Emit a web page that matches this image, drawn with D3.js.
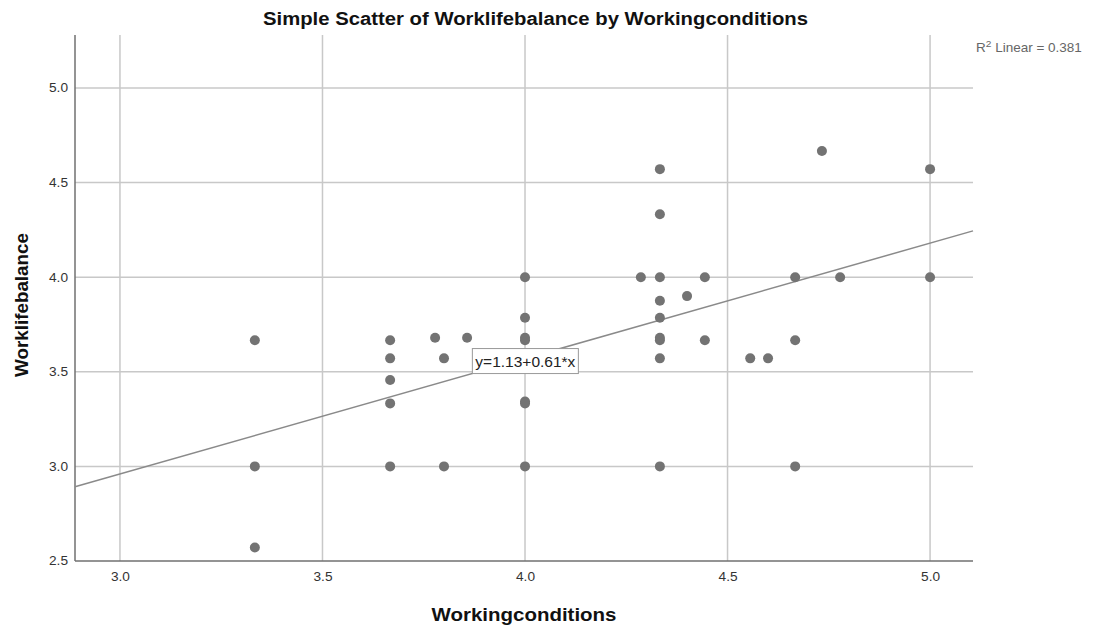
<!DOCTYPE html>
<html><head><meta charset="utf-8">
<script src="https://cdn.jsdelivr.net/npm/d3@7"></script>
<style>body{margin:0;background:#fff}svg{display:block}text{font-family:"Liberation Sans",Arial,sans-serif}</style>
</head><body><svg id="c" width="1093" height="630"></svg>
<script>
const xVals = [3.333,3.333,3.333, 3.667,3.667,3.667,3.667,3.667, 3.778,3.857,3.8,3.8,
  4.0,4.0,4.0,4.0,4.0,4.0,4.0,
  4.286,4.333,4.333,4.333,4.333,4.333,4.333,4.333,4.333,4.333,4.4,4.444,4.444,
  4.556,4.6,4.667,4.667,4.667,4.733,4.778,5.0,5.0];
const yVals = [3.667,3.0,2.571, 3.667,3.571,3.457,3.333,3.0, 3.68,3.68,3.571,3.0,
  4.0,3.786,3.667,3.68,3.343,3.333,3.0,
  4.0,4.571,4.333,4.0,3.875,3.786,3.667,3.68,3.571,3.0,3.9,4.0,3.667,
  3.571,3.571,4.0,3.667,3.0,4.667,4.0,4.571,4.0];
const xTicks = [3.0,3.5,4.0,4.5,5.0];
const yTicks = [2.5,3.0,3.5,4.0,4.5,5.0];
const fitIntercept = 1.13, fitSlope = 0.61;
const r2Label = "0.381";
const titleText = "Simple Scatter of Worklifebalance by Workingconditions";
const xTitle = "Workingconditions", yTitle = "Worklifebalance";

const svg = d3.select("#c");
const L=75,R=973,T=35,B=561;
const x = d3.scaleLinear().domain([2.889,5.106]).range([L,R]);
const y = d3.scaleLinear().domain([2.5,5.28]).range([B,T]);

// gridlines
svg.append("g").selectAll("line").data(xTicks).join("line")
  .attr("x1",d=>x(d)).attr("x2",d=>x(d)).attr("y1",T).attr("y2",B)
  .attr("stroke","#c8c8c8").attr("stroke-width",1.5);
svg.append("g").selectAll("line").data(yTicks.filter(d=>d>2.5)).join("line")
  .attr("x1",L).attr("x2",R).attr("y1",d=>y(d)).attr("y2",d=>y(d))
  .attr("stroke","#c8c8c8").attr("stroke-width",1.5);

// axes
const xa = svg.append("g").attr("transform",`translate(0,${B})`)
  .call(d3.axisBottom(x).tickValues(xTicks).tickFormat(d3.format(".1f")).tickSize(0).tickPadding(11));
const ya = svg.append("g").attr("transform",`translate(${L},0)`)
  .call(d3.axisLeft(y).tickValues(yTicks).tickFormat(d3.format(".1f")).tickSize(0).tickPadding(7));
[xa,ya].forEach(a=>{
  a.select(".domain").remove();
  a.selectAll("text").attr("font-size",12).attr("fill","#333")
    .attr("textLength",19).attr("lengthAdjust","spacingAndGlyphs")
    .style("font-family","Liberation Sans, Arial, sans-serif");
});
svg.append("line").attr("x1",L).attr("x2",L).attr("y1",T).attr("y2",B).attr("stroke","#707070").attr("stroke-width",1.5);
svg.append("line").attr("x1",L).attr("x2",R).attr("y1",B).attr("y2",B).attr("stroke","#707070").attr("stroke-width",1.5);

// fit line
const x0=x.domain()[0], x1=x.domain()[1];
svg.append("line").attr("x1",x(x0)).attr("y1",y(fitIntercept+fitSlope*x0))
  .attr("x2",x(x1)).attr("y2",y(fitIntercept+fitSlope*x1))
  .attr("stroke","#8a8a8a").attr("stroke-width",1.5);

// points
const pts = xVals.map((v,i)=>({x:v,y:yVals[i]}));
svg.append("g").selectAll("circle").data(pts).join("circle")
  .attr("cx",d=>x(d.x)).attr("cy",d=>y(d.y)).attr("r",5).attr("fill","#737373");

// equation label
const lx = 3.87, ly = fitIntercept+fitSlope*lx;
const g = svg.append("g").attr("transform",`translate(${x(lx)},${y(ly)})`);
g.append("rect").attr("x",0).attr("y",-25).attr("width",106).attr("height",25)
  .attr("fill","#fff").attr("stroke","#999").attr("stroke-width",1);
g.append("text").attr("x",3).attr("y",-7).attr("font-size",14).attr("fill","#222")
  .attr("textLength",100).attr("lengthAdjust","spacingAndGlyphs")
  .text(`y=${fitIntercept.toFixed(2)}+${fitSlope.toFixed(2)}*x`);

// R2 label
const r2 = svg.append("text").attr("x",976).attr("y",52).attr("font-size",12).attr("fill","#666");
r2.append("tspan").text("R");
r2.append("tspan").attr("dy",-5).attr("font-size",9).text("2");
r2.append("tspan").attr("dy",5).text(" Linear = "+r2Label);
const r2w = r2.node().getComputedTextLength();
r2.attr("transform",`translate(976,0) scale(${106/r2w},1) translate(-976,0)`);

// titles
svg.append("text").attr("x",535.5).attr("y",25).attr("text-anchor","middle")
  .attr("font-size",18).attr("font-weight","bold").attr("fill","#111")
  .attr("textLength",545).attr("lengthAdjust","spacingAndGlyphs").text(titleText);
svg.append("text").attr("x",524).attr("y",621).attr("text-anchor","middle")
  .attr("font-size",18.5).attr("font-weight","bold").attr("fill","#111")
  .attr("textLength",185).attr("lengthAdjust","spacingAndGlyphs").text(xTitle);
svg.append("text").attr("transform","translate(28,305) rotate(-90)").attr("text-anchor","middle")
  .attr("font-size",18.5).attr("font-weight","bold").attr("fill","#111")
  .attr("textLength",144).attr("lengthAdjust","spacingAndGlyphs").text(yTitle);
</script></body></html>
